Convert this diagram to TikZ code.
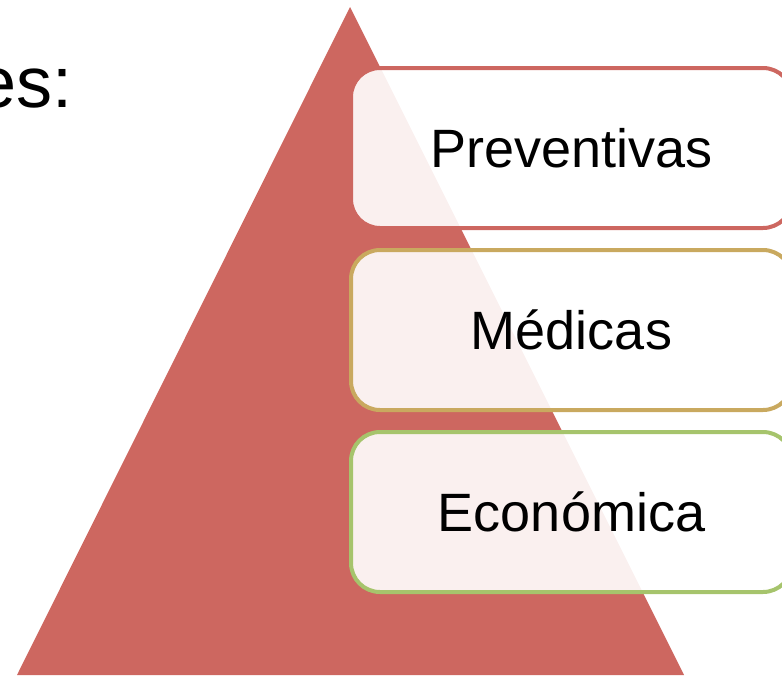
\documentclass[tikz,border=0pt]{standalone}
\usepackage{fontspec}
\setmainfont{Liberation Sans}
\usetikzlibrary{positioning}

\definecolor{pyrred}{HTML}{CD6760}
\definecolor{goldline}{HTML}{C9A95F}
\definecolor{greenline}{HTML}{A6C46C}

\tikzset{
  level/.style={draw, line width=4pt, rounded corners=29pt, fill=white,
    fill opacity=0.9, text opacity=1, minimum width=441pt, minimum height=160pt,
    outer sep=0pt, inner sep=0pt, font=\fontsize{54}{60}\selectfont}
}

\begin{document}
\begin{tikzpicture}[x=1pt,y=-1pt]
		
		% --- page frame ---
		\useasboundingbox (0,0) rectangle (782,675);
		
		% --- title rest, cut at the left edge ---
		\node[anchor=base west, inner sep=0pt, font=\fontsize{72}{80}\selectfont] (title) at (-24,107) {es:};
		
		% --- pyramid ---
		\fill[pyrred] (350,7) -- (17,675) -- (684,675) -- cycle;
		
		% --- levels ---
		\node[level, draw=pyrred] (prev) at (571.5,148) {Preventivas};
		\node[level, draw=goldline, below=22pt of prev] (med) {Médicas};
		\node[level, draw=greenline, below=22pt of med] (econ) {Económica};
		
	\end{tikzpicture}
\end{document}
